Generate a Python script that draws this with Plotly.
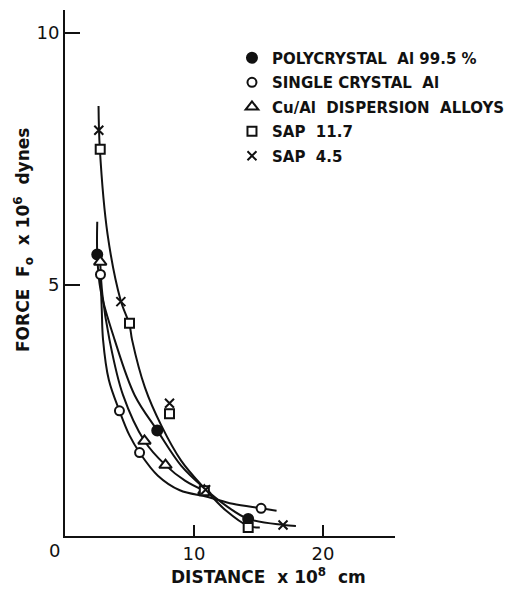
import plotly.graph_objects as go

# ---- measured data (distance x 1e8 cm, force x 1e6 dynes) ----
poly_x = [2.5, 7.15, 14.2]
poly_y = [5.6, 2.1, 0.34]

single_x = [2.75, 4.22, 5.78, 15.2]
single_y = [5.2, 2.49, 1.66, 0.55]

cual_x = [2.73, 6.16, 7.79, 10.8]
cual_y = [5.45, 1.89, 1.41, 0.9]

sap117_x = [2.73, 5.0, 8.1, 10.8, 14.2]
sap117_y = [7.69, 4.23, 2.43, 0.9, 0.17]

sap45_x = [2.62, 4.33, 8.1, 10.9, 16.9]
sap45_y = [8.07, 4.66, 2.64, 0.92, 0.22]

# hand-drawn fitted curves (nodes)
curve_sap_x = [2.6, 2.7, 3.3, 4.3, 5.0, 5.2, 6.2, 7.46, 9.0, 10.8, 12.5, 14.2, 15.1]
curve_sap_y = [8.55, 7.7, 6.0, 4.7, 4.2, 3.9, 2.95, 2.2, 1.5, 0.95, 0.5, 0.2, 0.17]

curve_poly_x = [2.5, 2.5, 2.75, 3.85, 5.4, 7.15, 9.0, 10.8, 12.5, 14.2, 16.9, 17.9]
curve_poly_y = [6.25, 5.6, 4.9, 3.9, 2.8, 2.1, 1.4, 0.95, 0.6, 0.34, 0.22, 0.2]

curve_cual_x = [2.73, 2.9, 3.45, 4.5, 6.16, 7.79, 9.3, 10.8]
curve_cual_y = [5.45, 4.8, 3.9, 2.8, 1.89, 1.41, 1.1, 0.9]

curve_single_x = [2.75, 2.85, 2.95, 3.4, 4.22, 5.0, 5.78, 7.2, 8.9, 11.0, 13.0, 15.2, 16.4]
curve_single_y = [5.2, 4.5, 3.9, 3.1, 2.49, 2.0, 1.66, 1.2, 0.91, 0.78, 0.64, 0.55, 0.5]

x_ticks = [10, 20]
y_ticks = [5, 10]

FONT = "DejaVu Sans"
INK = "#111111"

fig = go.Figure()

for cx, cy in [(curve_sap_x, curve_sap_y), (curve_poly_x, curve_poly_y),
               (curve_cual_x, curve_cual_y), (curve_single_x, curve_single_y)]:
    fig.add_trace(go.Scatter(x=cx, y=cy, mode="lines",
                             line=dict(color=INK, width=2, shape="spline", smoothing=1.0),
                             showlegend=False, hoverinfo="skip"))

series = [
    ("POLYCRYSTAL  Al 99.5 %", poly_x, poly_y, "circle", 10, INK),
    ("SINGLE CRYSTAL  Al", single_x, single_y, "circle", 9, "white"),
    ("Cu/Al  DISPERSION  ALLOYS", cual_x, cual_y, "triangle-up", 11, "white"),
    ("SAP  11.7", sap117_x, sap117_y, "square", 9, "white"),
    ("SAP  4.5", sap45_x, sap45_y, "x-thin", 9, INK),
]
for i, (name, sx, sy, sym, size, fill) in enumerate(series):
    fig.add_trace(go.Scatter(
        x=sx, y=sy, mode="markers", name=name, legendgroup=f"g{i}",
        marker=dict(symbol=sym, size=size, color=fill,
                    line=dict(color=INK, width=2)),
    ))

fig.update_layout(
    width=513, height=589,
    margin=dict(l=65, r=118, t=10, b=53, autoexpand=False),
    paper_bgcolor="white", plot_bgcolor="white",
    font=dict(family=FONT, color=INK, size=16, weight="bold"),
    showlegend=True,
    legend=dict(x=0.506, y=0.94, xanchor="left", yanchor="top",
                bgcolor="rgba(0,0,0,0)",
                font=dict(size=15, family=FONT, color=INK, weight="bold"),
                itemwidth=30, tracegroupgap=2),
    xaxis=dict(range=[0, 25.58], showgrid=False, zeroline=False,
               showline=True, linecolor=INK, linewidth=2,
               ticks="inside", ticklen=11, tickwidth=2, tickcolor=INK,
               tickvals=x_ticks, ticktext=[str(v) for v in x_ticks],
               tickfont=dict(size=18, family=FONT, color=INK, weight="normal")),
    yaxis=dict(range=[0, 10.46], showgrid=False, zeroline=False,
               showline=True, linecolor=INK, linewidth=2,
               ticks="inside", ticklen=15, tickwidth=2, tickcolor=INK,
               tickvals=y_ticks, ticktext=[str(v) for v in y_ticks],
               tickfont=dict(size=18, family=FONT, color=INK, weight="normal")),
    annotations=[
        dict(text="0", xref="paper", yref="paper", x=-0.033, y=-0.0285,
             showarrow=False, font=dict(size=18, family=FONT, color=INK, weight="normal"),
             xanchor="center", yanchor="middle"),
        dict(text="DISTANCE  x 10<sup>8</sup>  cm", xref="paper", yref="paper",
             x=(268 - 65) / 330, y=(536 - 576) / 526, showarrow=False,
             font=dict(size=17, family=FONT, color=INK, weight="bold"),
             xanchor="center", yanchor="middle"),
        dict(text="FORCE  F<sub>o</sub>  x 10<sup>6</sup>  dynes", xref="paper", yref="paper",
             x=(24 - 65) / 330, y=(536 - 240) / 526, showarrow=False, textangle=-90,
             font=dict(size=17, family=FONT, color=INK, weight="bold"),
             xanchor="center", yanchor="middle"),
    ],
)

fig.write_html("out.html")
